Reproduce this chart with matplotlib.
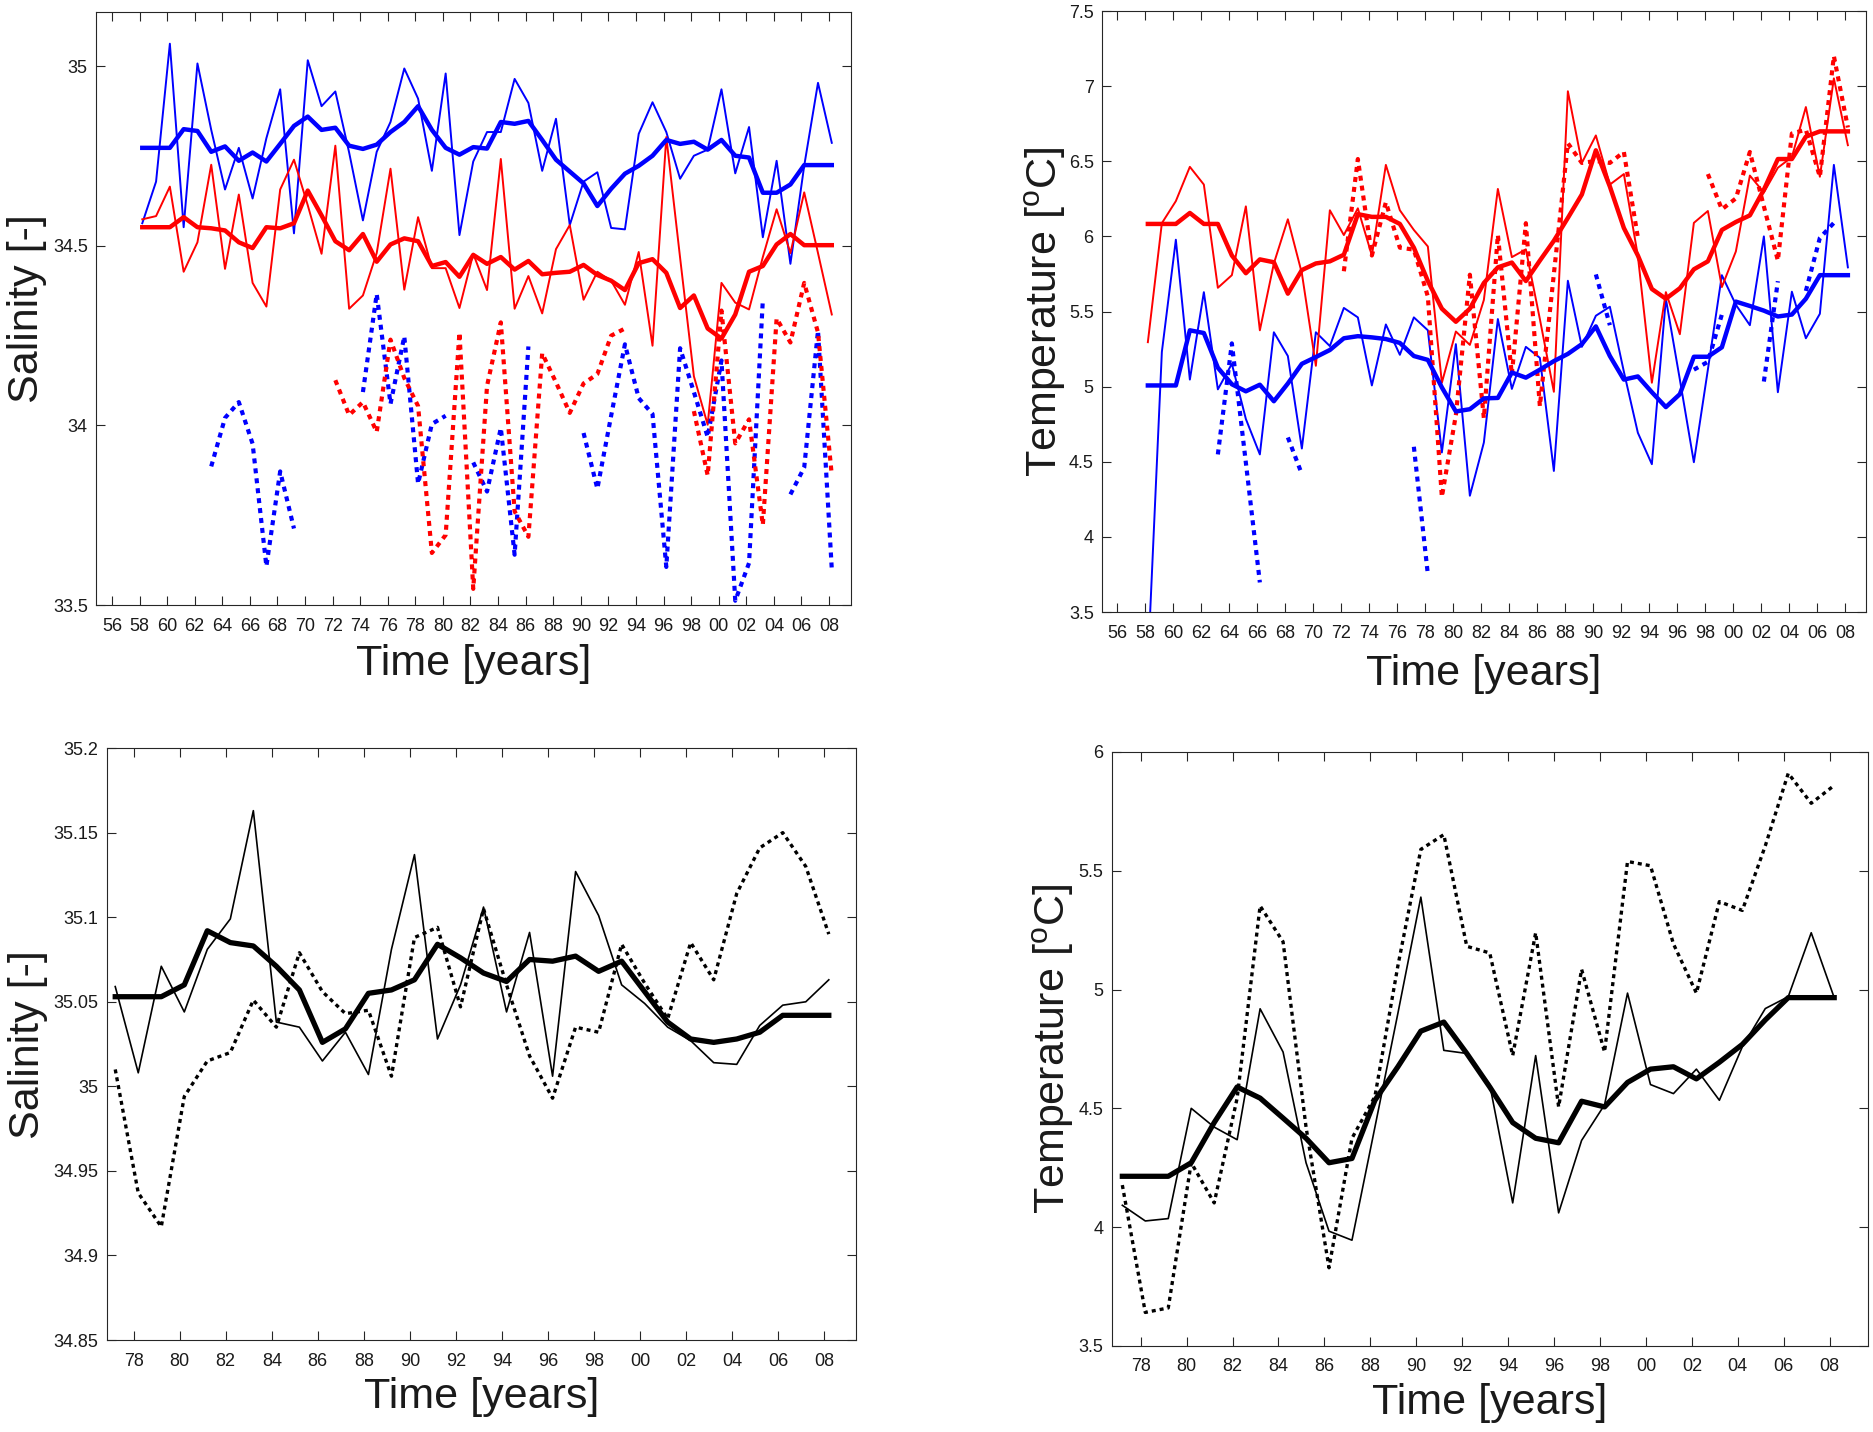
import matplotlib.pyplot as plt
import numpy as np

plt.rcParams['font.family'] = ['Liberation Sans', 'DejaVu Sans']
plt.rcParams['mathtext.fontset'] = 'custom'
plt.rcParams['mathtext.rm'] = 'Liberation Sans'

nan = np.nan

# data are plotted a little after the start of each year
offset = 0.2
years_long = np.arange(1958, 2009)
years_short = np.arange(1977, 2009)

# ---- top left: salinity, 1958-2008 ----
sal_blue_thin = [34.563, 34.679, 35.063, 34.552, 35.008, 34.823, 34.657, 34.773, 34.632, 34.80,
                 34.936, 34.535, 35.017, 34.889, 34.93, 34.76, 34.571, 34.762, 34.845, 34.994,
                 34.91, 34.709, 34.98, 34.53, 34.735, 34.817, 34.817, 34.965, 34.898, 34.709,
                 34.854, 34.558, 34.679, 34.705, 34.55, 34.546, 34.812, 34.90, 34.817, 34.687,
                 34.751, 34.768, 34.936, 34.702, 34.831, 34.524, 34.737, 34.45, 34.723, 34.954,
                 34.787]
sal_blue_thick = [34.773, 34.773, 34.773, 34.825, 34.82, 34.762, 34.777, 34.737, 34.76, 34.735,
                  34.784, 34.834, 34.86, 34.823, 34.829, 34.779, 34.77, 34.782, 34.817, 34.845,
                  34.889, 34.823, 34.773, 34.754, 34.775, 34.771, 34.845, 34.84, 34.848, 34.795,
                  34.74, 34.707, 34.674, 34.611, 34.659, 34.701, 34.723, 34.751, 34.795, 34.784,
                  34.79, 34.768, 34.795, 34.751, 34.746, 34.648, 34.648, 34.671, 34.725, 34.725,
                  34.725]
sal_blue_dot = [nan, nan, nan, nan, nan, 33.886, 34.021, 34.065, 33.949, 33.608,
                33.872, 33.713, nan, nan, nan, nan, 34.093, 34.366, 34.06, 34.248,
                33.838, 34.004, 34.027, nan, 33.897, 33.816, 33.993, 33.64, 34.22, nan,
                nan, nan, 33.979, 33.824, 34.027, 34.226, 34.076, 34.032, 33.606, 34.215,
                34.093, 33.968, 34.181, 33.512, 33.617, 34.35, nan, 33.808, 33.883, 34.264,
                33.6]
sal_red_thin = [34.574, 34.583, 34.665, 34.428, 34.51, 34.726, 34.436, 34.643, 34.397, 34.331,
                34.657, 34.74, 34.613, 34.478, 34.779, 34.325, 34.362, 34.48, 34.715, 34.378,
                34.58, 34.438, 34.438, 34.327, 34.478, 34.377, 34.742, 34.325, 34.416, 34.312,
                34.491, 34.558, 34.35, 34.428, 34.403, 34.336, 34.483, 34.222, 34.803, 34.467,
                34.137, 34.002, 34.397, 34.342, 34.323, 34.469, 34.602, 34.48, 34.649, 34.48,
                34.309]
sal_red_thick = [34.552, 34.552, 34.552, 34.58, 34.552, 34.549, 34.543, 34.51, 34.494, 34.552,
                 34.549, 34.563, 34.654, 34.585, 34.513, 34.488, 34.533, 34.456, 34.504, 34.521,
                 34.513, 34.444, 34.455, 34.414, 34.475, 34.45, 34.469, 34.434, 34.458, 34.421,
                 34.425, 34.428, 34.447, 34.419, 34.403, 34.377, 34.452, 34.463, 34.425, 34.327,
                 34.362, 34.27, 34.242, 34.309, 34.428, 34.444, 34.504, 34.533, 34.502, 34.502,
                 34.502]
sal_red_dot = [nan, nan, nan, nan, nan, nan, nan, nan, nan, nan,
               nan, nan, nan, nan, 34.126, 34.029, 34.065, 33.982, 34.239, 34.132,
               34.054, 33.645, 33.695, 34.259, 33.545, 34.11, 34.287, 33.761, 33.69, 34.201,
               34.12, 34.035, 34.117, 34.143, 34.25, 34.27, nan, nan, nan, nan,
               34.04, 33.861, 34.32, 33.95, 34.017, 33.723, 34.298, 34.231, 34.397, 34.259,
               33.861]

# ---- top right: temperature, 1958-2008 ----
tem_blue_thin = [3.155, 5.231, 5.978, 5.047, 5.629, 4.982, 5.152, 4.785, 4.549, 5.362,
                 5.204, 4.588, 5.362, 5.27, 5.524, 5.461, 5.008, 5.414, 5.212, 5.461,
                 5.375, 4.562, 5.283, 4.274, 4.628, 5.45, 4.985, 5.265, 5.192, 4.439,
                 5.705, 5.265, 5.472, 5.532, 5.10, 4.693, 4.484, 5.585, 5.047, 4.497,
                 5.113, 5.742, 5.545, 5.409, 6.0, 4.963, 5.632, 5.322, 5.485, 6.476,
                 5.794]
tem_blue_thick = [5.008, 5.008, 5.008, 5.375, 5.357, 5.126, 5.016, 4.969, 5.013, 4.903,
                  5.021, 5.152, 5.197, 5.244, 5.322, 5.336, 5.328, 5.317, 5.291, 5.204,
                  5.178, 4.995, 4.835, 4.85, 4.922, 4.925, 5.094, 5.06, 5.113, 5.17,
                  5.218, 5.283, 5.401, 5.204, 5.047, 5.068, 4.963, 4.864, 4.95, 5.199,
                  5.199, 5.262, 5.566, 5.537, 5.506, 5.467, 5.48, 5.585, 5.742, 5.742,
                  5.742]
tem_blue_dot = [nan, nan, nan, nan, nan, 4.549, 5.288, 4.494, 3.697, nan,
                4.662, 4.418, nan, nan, nan, nan, nan, nan, nan, 4.6,
                3.75, nan, nan, nan, nan, nan, nan, nan, nan, nan,
                nan, nan, 5.747, 5.409, nan, nan, nan, nan, nan, 5.113,
                5.165, 5.48, nan, nan, 5.034, 5.702, nan, 5.637, 5.99, 6.09,
                nan]
tem_red_thin = [5.296, 6.088, 6.235, 6.463, 6.345, 5.658, 5.742, 6.2, 5.375, 5.82,
                6.114, 5.755, 5.139, 6.174, 6.009, 6.187, 5.873, 6.476, 6.174, 6.043,
                5.933, 5.026, 5.367, 5.278, 5.577, 6.316, 5.862, 5.914, 5.45, 4.966,
                6.966, 6.489, 6.672, 6.345, 6.415, 5.87, 5.026, 5.629, 5.349, 6.09,
                6.169, 5.663, 5.9, 6.405, 6.292, 6.457, 6.528, 6.861, 6.397, 7.052,
                6.607]
tem_red_thick = [6.083, 6.083, 6.083, 6.156, 6.083, 6.083, 5.873, 5.755, 5.847, 5.828,
                 5.619, 5.776, 5.82, 5.834, 5.878, 6.148, 6.13, 6.13, 6.083, 5.925,
                 5.703, 5.519, 5.432, 5.519, 5.69, 5.794, 5.826, 5.703, 5.839, 5.971,
                 6.123, 6.279, 6.573, 6.332, 6.056, 5.873, 5.65, 5.585, 5.655, 5.781,
                 5.834, 6.043, 6.096, 6.14, 6.311, 6.515, 6.515, 6.664, 6.699, 6.699,
                 6.699]
tem_red_dot = [nan, nan, nan, nan, nan, nan, nan, nan, nan, nan,
               nan, nan, nan, nan, 5.768, 6.515, 5.873, 6.227, 5.925, 5.912,
               5.6, 4.266, 4.811, 5.745, 4.79, 6.01, 5.08, 6.088, 4.87, 5.75,
               6.62, 6.489, 6.502, 6.489, 6.562, 5.992, nan, nan, nan, nan,
               6.415, 6.18, 6.253, 6.562, 6.2, 5.839, 6.685, 6.71, 6.397, 7.2,
               6.725]

# ---- bottom left: salinity, 1977-2008 ----
sal_k_thin = [35.059, 35.008, 35.071, 35.044, 35.081, 35.099, 35.163, 35.038, 35.035, 35.015,
              35.032, 35.007, 35.081, 35.137, 35.028, 35.06, 35.106, 35.044, 35.091, 35.006,
              35.127, 35.101, 35.06, 35.049, 35.035, 35.027, 35.014, 35.013, 35.036, 35.048,
              35.05, 35.063]
sal_k_thick = [35.053, 35.053, 35.053, 35.06, 35.092, 35.085, 35.083, 35.071, 35.057, 35.026,
               35.034, 35.055, 35.057, 35.063, 35.084, 35.076, 35.067, 35.062, 35.075, 35.074,
               35.077, 35.068, 35.074, 35.056, 35.038, 35.028, 35.026, 35.028, 35.032, 35.042,
               35.042, 35.042]
sal_k_dot = [35.01, 34.937, 34.917, 34.994, 35.015, 35.02, 35.051, 35.035, 35.079, 35.056,
             35.043, 35.045, 35.006, 35.088, 35.094, 35.047, 35.105, 35.06, 35.018, 34.993,
             35.035, 35.032, 35.084, 35.061, 35.04, 35.085, 35.063, 35.114, 35.141, 35.15,
             35.13, 35.09]

# ---- bottom right: temperature, 1977-2008 ----
tem_k_thin = [4.092, 4.026, 4.036, 4.5, 4.421, 4.368, 4.919, 4.737, 4.271, 3.983,
              3.945, 4.421, 4.90, 5.389, 4.744, 4.731, 4.6, 4.102, 4.722, 4.06,
              4.365, 4.515, 4.985, 4.6, 4.562, 4.665, 4.534, 4.759, 4.92, 4.97,
              5.239, 4.966]
tem_k_thick = [4.214, 4.214, 4.214, 4.271, 4.44, 4.59, 4.543, 4.459, 4.374, 4.271,
               4.289, 4.534, 4.675, 4.825, 4.863, 4.731, 4.59, 4.44, 4.374, 4.355,
               4.53, 4.506, 4.609, 4.665, 4.675, 4.624, 4.694, 4.769, 4.872, 4.966,
               4.966, 4.966]
tem_k_dot = [4.177, 3.641, 3.66, 4.271, 4.102, 4.543, 5.352, 5.201, 4.421, 3.829,
             4.374, 4.55, 5.10, 5.59, 5.652, 5.182, 5.154, 4.722, 5.239, 4.506,
             5.085, 4.737, 5.539, 5.521, 5.192, 4.985, 5.37, 5.333, 5.605, 5.91,
             5.784, 5.859]

DOT = (0, (1.2, 1.2))
FRAME = '#262626'


def style(ax, xlim, xticks, ylim, yticks, ylabels, ylabel, ylab_x, xlab_y):
    ax.set_xlim(*xlim)
    ax.set_ylim(*ylim)
    ax.set_xticks(xticks)
    ax.set_xticklabels(['%02d' % (t % 100) for t in xticks])
    ax.set_yticks(yticks)
    ax.set_yticklabels(ylabels)
    ax.tick_params(direction='in', top=True, right=True, length=6.5, width=0.8,
                   labelsize=13, colors=FRAME, labelcolor='#1a1a1a')
    ax.tick_params(axis='x', pad=9)
    ax.tick_params(axis='y', pad=6)
    for s in ax.spines.values():
        s.set_color(FRAME)
        s.set_linewidth(0.8)
    ax.set_xlabel('Time [years]', fontsize=31, color='#1a1a1a')
    ax.set_ylabel(ylabel, fontsize=31, color='#1a1a1a')
    ax.yaxis.set_label_coords(ylab_x, 0.5)
    ax.xaxis.set_label_coords(0.5, xlab_y)


fig = plt.figure(figsize=(18.73, 14.32), dpi=100)

ax1 = fig.add_axes([0.0513, 0.5775, 0.4031, 0.4138])
x = years_long + offset
ax1.plot(x, sal_blue_thin, color='blue', linewidth=1.4)
ax1.plot(x, sal_red_thin, color='red', linewidth=1.4)
ax1.plot(x, sal_blue_dot, color='blue', linewidth=3, linestyle=DOT)
ax1.plot(x, sal_red_dot, color='red', linewidth=3, linestyle=DOT)
ax1.plot(x, sal_blue_thick, color='blue', linewidth=3.2)
ax1.plot(x, sal_red_thick, color='red', linewidth=3.2)
style(ax1, (1954.85, 2009.6), np.arange(1956, 2009, 2), (33.5, 35.15),
      [33.5, 34, 34.5, 35], ['33.5', '34', '34.5', '35'],
      'Salinity [-]', -0.065, -0.066)

ax2 = fig.add_axes([0.5884, 0.5726, 0.4079, 0.4197])
ax2.plot(x, tem_blue_thin, color='blue', linewidth=1.4)
ax2.plot(x, tem_red_thin, color='red', linewidth=1.4)
ax2.plot(x, tem_blue_dot, color='blue', linewidth=3, linestyle=DOT)
ax2.plot(x, tem_red_dot, color='red', linewidth=3, linestyle=DOT)
ax2.plot(x, tem_blue_thick, color='blue', linewidth=3.2)
ax2.plot(x, tem_red_thick, color='red', linewidth=3.2)
style(ax2, (1954.93, 2009.5), np.arange(1956, 2009, 2), (3.5, 7.5),
      np.arange(3.5, 7.51, 0.5), ['3.5', '4', '4.5', '5', '5.5', '6', '6.5', '7', '7.5'],
      r'Temperature [$^{\rm o}$C]', -0.0445, -0.07)

xs = years_short + offset
ax3 = fig.add_axes([0.0571, 0.0642, 0.3999, 0.4134])
ax3.plot(xs, sal_k_thin, color='black', linewidth=1.2)
ax3.plot(xs, sal_k_dot, color='black', linewidth=2.4, linestyle=DOT)
ax3.plot(xs, sal_k_thick, color='black', linewidth=3.8)
style(ax3, (1976.84, 2009.38), np.arange(1978, 2009, 2), (34.85, 35.2),
      np.arange(34.85, 35.201, 0.05),
      ['34.85', '34.9', '34.95', '35', '35.05', '35.1', '35.15', '35.2'],
      'Salinity [-]', -0.079, -0.062)

ax4 = fig.add_axes([0.5937, 0.0601, 0.4036, 0.4148])
ax4.plot(xs, tem_k_thin, color='black', linewidth=1.2)
ax4.plot(xs, tem_k_dot, color='black', linewidth=2.4, linestyle=DOT)
ax4.plot(xs, tem_k_thick, color='black', linewidth=3.8)
style(ax4, (1976.75, 2009.67), np.arange(1978, 2009, 2), (3.5, 6.0),
      np.arange(3.5, 6.01, 0.5), ['3.5', '4', '4.5', '5', '5.5', '6'],
      r'Temperature [$^{\rm o}$C]', -0.0476, -0.063)

fig.savefig('out.png', dpi=100)
